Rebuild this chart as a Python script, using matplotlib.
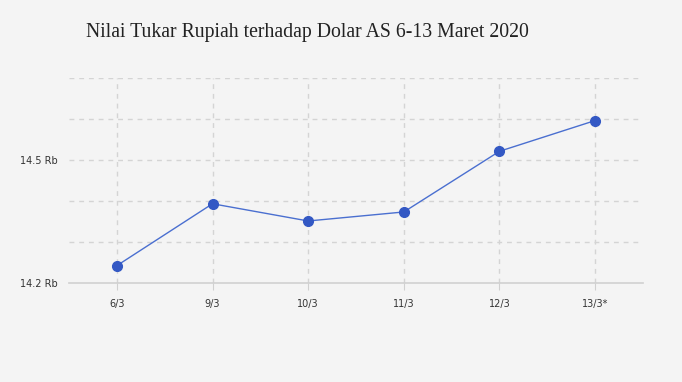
import matplotlib
matplotlib.use("Agg")
import matplotlib.pyplot as plt

# Data (Rupiah per USD, in thousands)
dates = ["6/3", "9/3", "10/3", "11/3", "12/3", "13/3*"]
kurs = [14.243, 14.394, 14.352, 14.374, 14.522, 14.597]
y_grid = [14.2, 14.3, 14.4, 14.5, 14.6, 14.7]
y_labels = {14.2: "14.2 Rb", 14.5: "14.5 Rb"}

bg = "#f4f4f4"
fig = plt.figure(figsize=(6.82, 3.82), dpi=100, facecolor=bg)
ax = fig.add_axes([69 / 682, 1 - 283.3 / 382, (643 - 69) / 682, (283.3 - 78.3) / 382])
ax.set_facecolor(bg)

x = list(range(len(dates)))
ax.plot(x, kurs, color="#4a6fd0", lw=1.0, marker="o", ms=7.0,
        mfc="#3358c4", mec="#3358c4", zorder=3, clip_on=False)

ax.set_xlim(-0.5, len(dates) - 0.5)
ax.set_ylim(14.2, 14.7)

# grid
for v in y_grid[1:]:
    ax.axhline(v, color="#d4d4d4", lw=1, ls=(0, (3.5, 3.5)), zorder=1)
for xi in x:
    ax.plot([xi, xi], [14.2, 14.7], color="#d4d4d4", lw=1, ls=(0, (3.5, 3.5)), zorder=1)

for s in ["top", "right", "left"]:
    ax.spines[s].set_visible(False)
ax.spines["bottom"].set_color("#d0d0d0")
ax.spines["bottom"].set_linewidth(1.2)

ax.set_xticks(x)
ax.set_xticklabels(dates, fontsize=7, color="#333333")
ax.tick_params(axis="x", length=5, color="#d0d0d0", pad=6)
ax.set_yticks(list(y_labels.keys()))
ax.set_yticklabels(list(y_labels.values()), fontsize=7, color="#333333")
ax.tick_params(axis="y", length=0, pad=8)

fig.text(86 / 682, 1 - 33 / 382, "Nilai Tukar Rupiah terhadap Dolar AS 6-13 Maret 2020",
         family="Liberation Serif", fontsize=14.2, color="#222222", va="center", ha="left")

fig.savefig("out.png", dpi=100, facecolor=bg)
